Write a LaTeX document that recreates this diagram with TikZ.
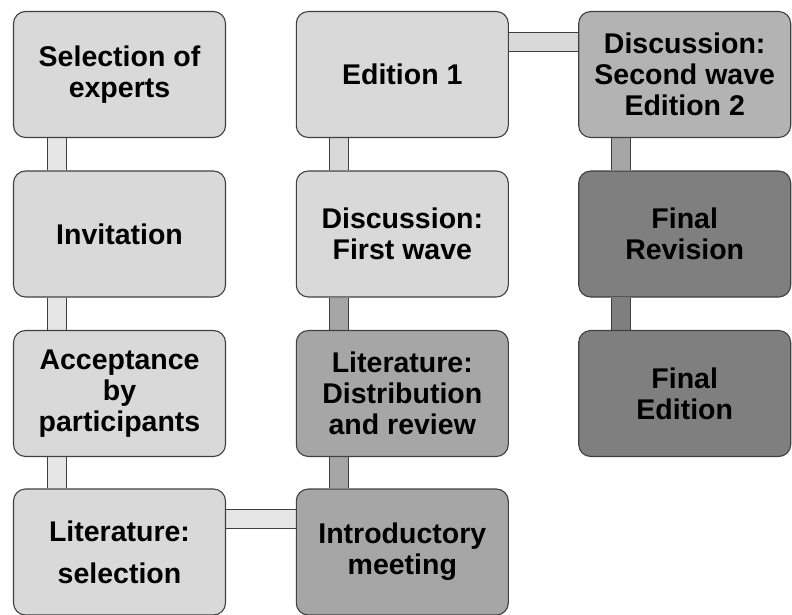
\documentclass[tikz,border=0pt]{standalone}
\usepackage{fontspec}
\setmainfont{Liberation Sans}
\usetikzlibrary{backgrounds}
\definecolor{edge}{HTML}{404040}
\definecolor{pale}{HTML}{E6E6E6}
\definecolor{light}{HTML}{D9D9D9}
\definecolor{mid}{HTML}{B3B3B3}
\definecolor{grey}{HTML}{A6A6A6}
\definecolor{dark}{HTML}{7F7F7F}
\tikzset{
  stage/.style={draw=edge, line width=1.1pt, fill=#1, rounded corners=12pt,
    minimum width=212pt, minimum height=126pt, inner sep=0pt, align=center,
    font=\fontsize{28.5}{31}\selectfont\bfseries},
  link/.style={draw=edge, line width=1pt, double=#1, double distance=18pt}
}
\begin{document}
\begin{tikzpicture}[x=1pt,y=-1pt]
  \useasboundingbox (0,0) rectangle (792,615);
  \draw
    (119.5,74.5) node[stage=light] (sel){Selection of\\experts}
    (119.5,234) node[stage=light] (inv){Invitation}
    (119.5,393.5) node[stage=light] (acc){Acceptance\\by\\participants}
    (119.5,552) node[stage=light] (litsel){Literature:\\[11pt]selection}
    (402.3,552) node[stage=grey] (intro){Introductory\\meeting}
    (402.3,393.5) node[stage=grey] (litrev){Literature:\\Distribution\\and review}
    (402.3,234) node[stage=light] (disc1){Discussion:\\First wave}
    (402.3,74.5) node[stage=light] (ed1){Edition 1}
    (684.7,74.5) node[stage=mid] (disc2){Discussion:\\Second wave\\Edition 2}
    (684.7,234) node[stage=dark] (rev){Final\\Revision}
    (684.7,393.5) node[stage=dark] (fin){Final\\Edition};
  \begin{scope}[on background layer]
    \draw[link=pale] ([xshift=44pt]sel.south west) to ([xshift=44pt]inv.north west);
    \draw[link=pale] ([xshift=44pt]inv.south west) to ([xshift=44pt]acc.north west);
    \draw[link=pale] ([xshift=44pt]acc.south west) to ([xshift=44pt]litsel.north west);
    \draw[link=pale] ([yshift=-31pt]litsel.north east) to ([yshift=-31pt]intro.north west);
    \draw[link=grey] ([xshift=43pt]intro.north west) to ([xshift=43pt]litrev.south west);
    \draw[link=grey] ([xshift=43pt]litrev.north west) to ([xshift=43pt]disc1.south west);
    \draw[link=light] ([xshift=43pt]disc1.north west) to ([xshift=43pt]ed1.south west);
    \draw[link=light] ([yshift=-31pt]ed1.north east) to ([yshift=-31pt]disc2.north west);
    \draw[link=grey] ([xshift=43pt]disc2.south west) to ([xshift=43pt]rev.north west);
    \draw[link=dark] ([xshift=43pt]rev.south west) to ([xshift=43pt]fin.north west);
  \end{scope}
\end{tikzpicture}
\end{document}
